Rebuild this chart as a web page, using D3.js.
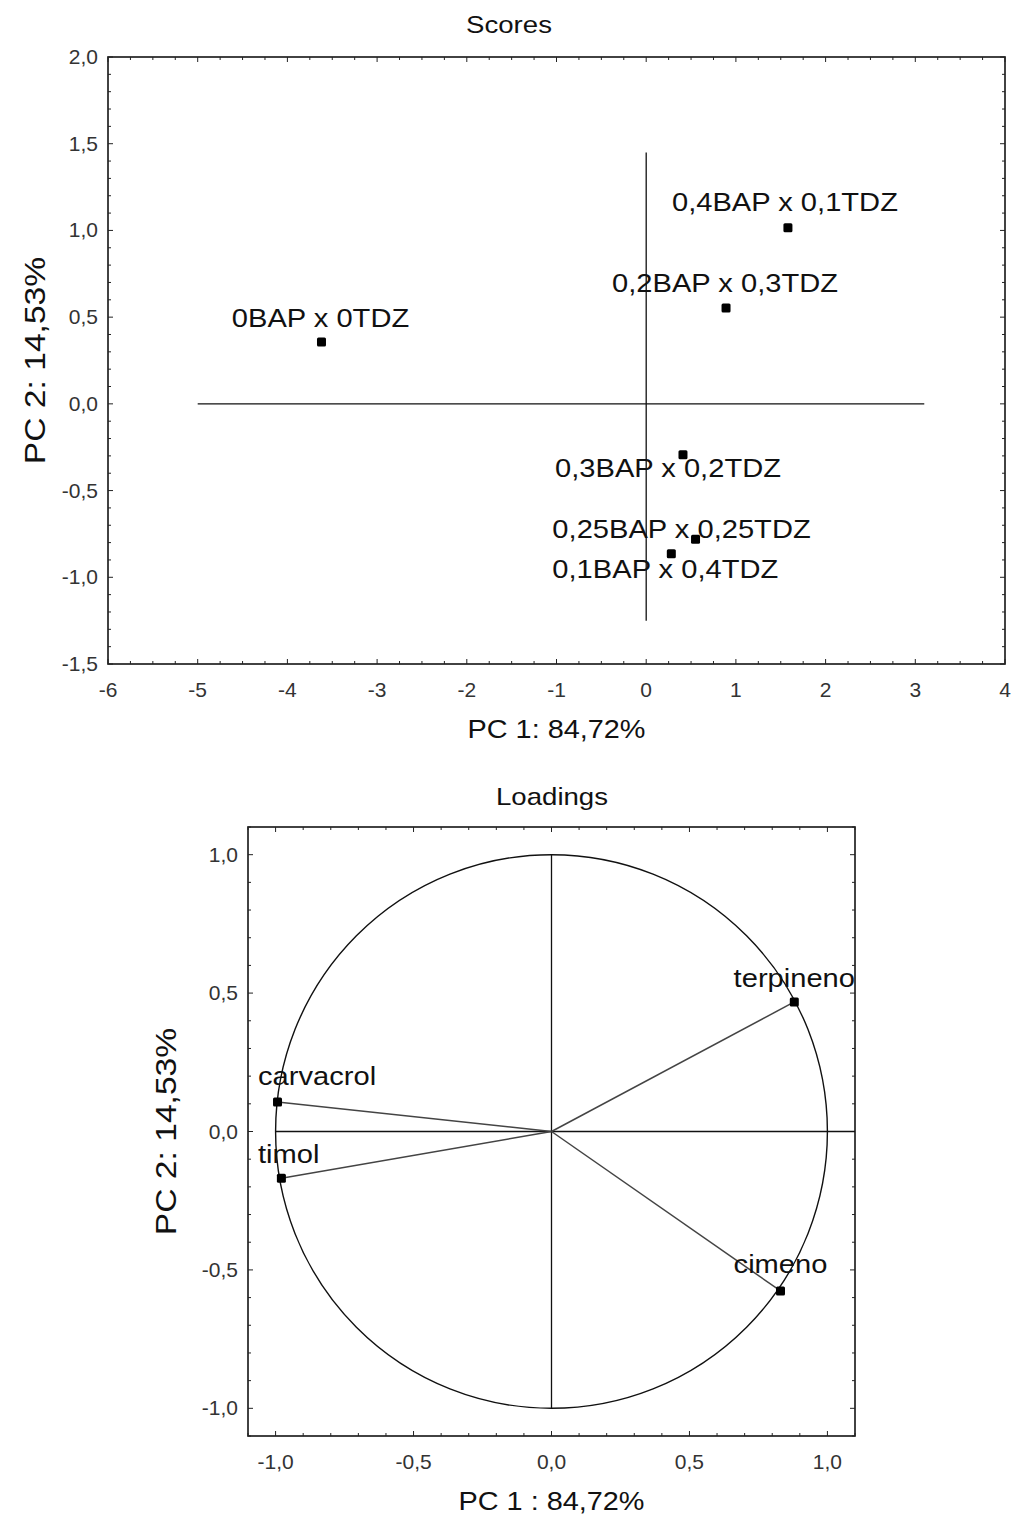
<!DOCTYPE html>
<html>
<head>
<meta charset="utf-8">
<script src="https://cdn.jsdelivr.net/npm/d3@7"></script>
<style>
  html, body { margin: 0; padding: 0; background: #fff; }
  svg { display: block; }
  text { font-family: "Liberation Sans", Arial, sans-serif; }
</style>
</head>
<body>
<svg id="chart" width="1018" height="1515"></svg>
<script>
// ---- Scores (PCA sample scores) ----
const scoreLabels = ["0BAP x 0TDZ", "0,4BAP x 0,1TDZ", "0,2BAP x 0,3TDZ",
                     "0,3BAP x 0,2TDZ", "0,25BAP x 0,25TDZ", "0,1BAP x 0,4TDZ"];
const scorePC1 = [-3.62, 1.58, 0.89, 0.41, 0.55, 0.28];
const scorePC2 = [0.357, 1.015, 0.553, -0.294, -0.78, -0.865];
const scoreXTicks = [-6, -5, -4, -3, -2, -1, 0, 1, 2, 3, 4];
const scoreYTicks = [-1.5, -1.0, -0.5, 0.0, 0.5, 1.0, 1.5, 2.0];

// ---- Loadings (variable correlations) ----
const loadingLabels = ["terpineno", "carvacrol", "timol", "cimeno"];
const loadingPC1 = [0.88, -0.993, -0.979, 0.83];
const loadingPC2 = [0.468, 0.107, -0.169, -0.576];
const loadingTicks = [-1.0, -0.5, 0.0, 0.5, 1.0];

const axisTitleX = "PC 1: 84,72%";
const axisTitleXLoad = "PC 1 : 84,72%";
const axisTitleY = "PC 2: 14,53%";

// decimal comma, plain hyphen for negatives
const fmtDec = d => d3.format(".1f")(d).replace(".", ",").replace("\u2212", "-");
const fmtInt = d => d3.format("d")(d).replace("\u2212", "-");

const svg = d3.select("#chart");

// Text helper: the lettering is horizontally wide, so stretch it a little.
function label(g, str, x, y, opts) {
  const o = Object.assign({size: 26, sx: 1.12, anchor: "middle", fill: "#111", rotate: 0}, opts || {});
  return g.append("text")
    .attr("transform", `translate(${x},${y}) rotate(${o.rotate}) scale(${o.sx},1)`)
    .attr("text-anchor", o.anchor)
    .attr("font-size", o.size)
    .attr("fill", o.fill)
    .text(str);
}

function panel(cfg) {
  const g = svg.append("g");
  const x = d3.scaleLinear().domain(cfg.xDomain).range([cfg.left, cfg.right]);
  const y = d3.scaleLinear().domain(cfg.yDomain).range([cfg.bottom, cfg.top]);

  // minor + major inward ticks on all four sides
  const xMinor = d3.range(cfg.xDomain[0], cfg.xDomain[1] + 1e-9, cfg.xMinorStep);
  const yMinor = d3.range(cfg.yDomain[0], cfg.yDomain[1] + 1e-9, cfg.yMinorStep);
  const ticks = g.append("g").attr("stroke", "#222").attr("stroke-width", 1);
  const isMajor = (v, arr) => arr.some(a => Math.abs(a - v) < 1e-6);
  xMinor.forEach(v => {
    const len = isMajor(v, cfg.xTicks) ? 5 : 3;
    ticks.append("line").attr("x1", x(v)).attr("x2", x(v)).attr("y1", cfg.bottom).attr("y2", cfg.bottom - len);
    ticks.append("line").attr("x1", x(v)).attr("x2", x(v)).attr("y1", cfg.top).attr("y2", cfg.top + len);
  });
  yMinor.forEach(v => {
    const len = isMajor(v, cfg.yTicks) ? 5 : 3;
    ticks.append("line").attr("y1", y(v)).attr("y2", y(v)).attr("x1", cfg.left).attr("x2", cfg.left + len);
    ticks.append("line").attr("y1", y(v)).attr("y2", y(v)).attr("x1", cfg.right).attr("x2", cfg.right - len);
  });

  // frame
  g.append("rect")
    .attr("x", cfg.left).attr("y", cfg.top)
    .attr("width", cfg.right - cfg.left).attr("height", cfg.bottom - cfg.top)
    .attr("fill", "none").attr("stroke", "#222").attr("stroke-width", 1.7);

  // tick labels
  cfg.xTicks.forEach(v => label(g, cfg.xFmt(v), x(v), cfg.bottom + 33, {size: 20, sx: 1.05, fill: "#333"}));
  cfg.yTicks.forEach(v => label(g, cfg.yFmt(v), cfg.left - 10, y(v) + 7, {size: 20, sx: 1.05, fill: "#333", anchor: "end"}));

  // titles
  label(g, cfg.title, cfg.titleX, cfg.titleY, {size: 24, sx: 1.15});
  label(g, cfg.xTitle, (cfg.left + cfg.right) / 2, cfg.bottom + 74, {size: 26, sx: 1.11});
  label(g, axisTitleY, cfg.yTitleX, (cfg.top + cfg.bottom) / 2, {size: 30, sx: 1.12, rotate: -90});

  return {g, x, y};
}

// ===== Scores panel =====
const s = panel({
  left: 108, right: 1005, top: 57, bottom: 664,
  xDomain: [-6, 4], yDomain: [-1.5, 2.0],
  xTicks: scoreXTicks, yTicks: scoreYTicks,
  xMinorStep: 0.25, yMinorStep: 0.1,
  xFmt: fmtInt, yFmt: fmtDec,
  title: "Scores", titleX: 509, titleY: 33,
  xTitle: axisTitleX, yTitleX: 45
});

// reference cross through the origin
const scoreCrossX = [-5, 3.1];
const scoreCrossY = [-1.25, 1.45];
s.g.append("line").attr("x1", s.x(scoreCrossX[0])).attr("x2", s.x(scoreCrossX[1]))
  .attr("y1", s.y(0)).attr("y2", s.y(0)).attr("stroke", "#111").attr("stroke-width", 1.3);
s.g.append("line").attr("x1", s.x(0)).attr("x2", s.x(0))
  .attr("y1", s.y(scoreCrossY[0])).attr("y2", s.y(scoreCrossY[1])).attr("stroke", "#111").attr("stroke-width", 1.3);

// label placement (pixel offsets of label centre/baseline from the marker)
const scoreLabelOffset = [[-1, -15], [-3, -17], [-1, -16], [-15, 22], [-14, -1], [-6, 24]];

scoreLabels.forEach((name, i) => {
  const px = s.x(scorePC1[i]), py = s.y(scorePC2[i]);
  s.g.append("rect").attr("x", px - 4.5).attr("y", py - 4.5).attr("width", 9).attr("height", 9)
    .attr("rx", 1.5).attr("fill", "#000");
  label(s.g, name, px + scoreLabelOffset[i][0], py + scoreLabelOffset[i][1]);
});

// ===== Loadings panel =====
const l = panel({
  left: 248, right: 855, top: 827, bottom: 1436,
  xDomain: [-1.1, 1.1], yDomain: [-1.1, 1.1],
  xTicks: loadingTicks, yTicks: loadingTicks,
  xMinorStep: 0.1, yMinorStep: 0.1,
  xFmt: fmtDec, yFmt: fmtDec,
  title: "Loadings", titleX: 552, titleY: 805,
  xTitle: axisTitleXLoad, yTitleX: 176
});

// unit correlation circle
const rx = l.x(1) - l.x(0), ry = l.y(0) - l.y(1);
l.g.append("ellipse").attr("cx", l.x(0)).attr("cy", l.y(0)).attr("rx", rx).attr("ry", ry)
  .attr("fill", "none").attr("stroke", "#111").attr("stroke-width", 1.4);

const loadCrossX = [-1.0, 1.1];
const loadCrossY = [-1.0, 1.0];
l.g.append("line").attr("x1", l.x(loadCrossX[0])).attr("x2", l.x(loadCrossX[1]))
  .attr("y1", l.y(0)).attr("y2", l.y(0)).attr("stroke", "#111").attr("stroke-width", 1.3);
l.g.append("line").attr("x1", l.x(0)).attr("x2", l.x(0))
  .attr("y1", l.y(loadCrossY[0])).attr("y2", l.y(loadCrossY[1])).attr("stroke", "#111").attr("stroke-width", 1.3);

loadingLabels.forEach((name, i) => {
  const px = l.x(loadingPC1[i]), py = l.y(loadingPC2[i]);
  l.g.append("line").attr("x1", l.x(0)).attr("y1", l.y(0)).attr("x2", px).attr("y2", py)
    .attr("stroke", "#444").attr("stroke-width", 1.5);
  l.g.append("rect").attr("x", px - 4.5).attr("y", py - 4.5).attr("width", 9).attr("height", 9)
    .attr("rx", 1.5).attr("fill", "#000");
});
const loadLabelDy = [-15, -17, -15, -18];
loadingLabels.forEach((name, i) => {
  const px = l.x(loadingPC1[i]), py = l.y(loadingPC2[i]);
  const t = label(l.g, name, px, py + loadLabelDy[i]);
  // keep labels inside the frame on the left side
  const w = t.node().getComputedTextLength() * 1.12;
  const minCx = 258 + w / 2;
  if (px < minCx) {
    t.attr("transform", `translate(${minCx},${py + loadLabelDy[i]}) scale(1.12,1)`);
  }
});
</script>
</body>
</html>
